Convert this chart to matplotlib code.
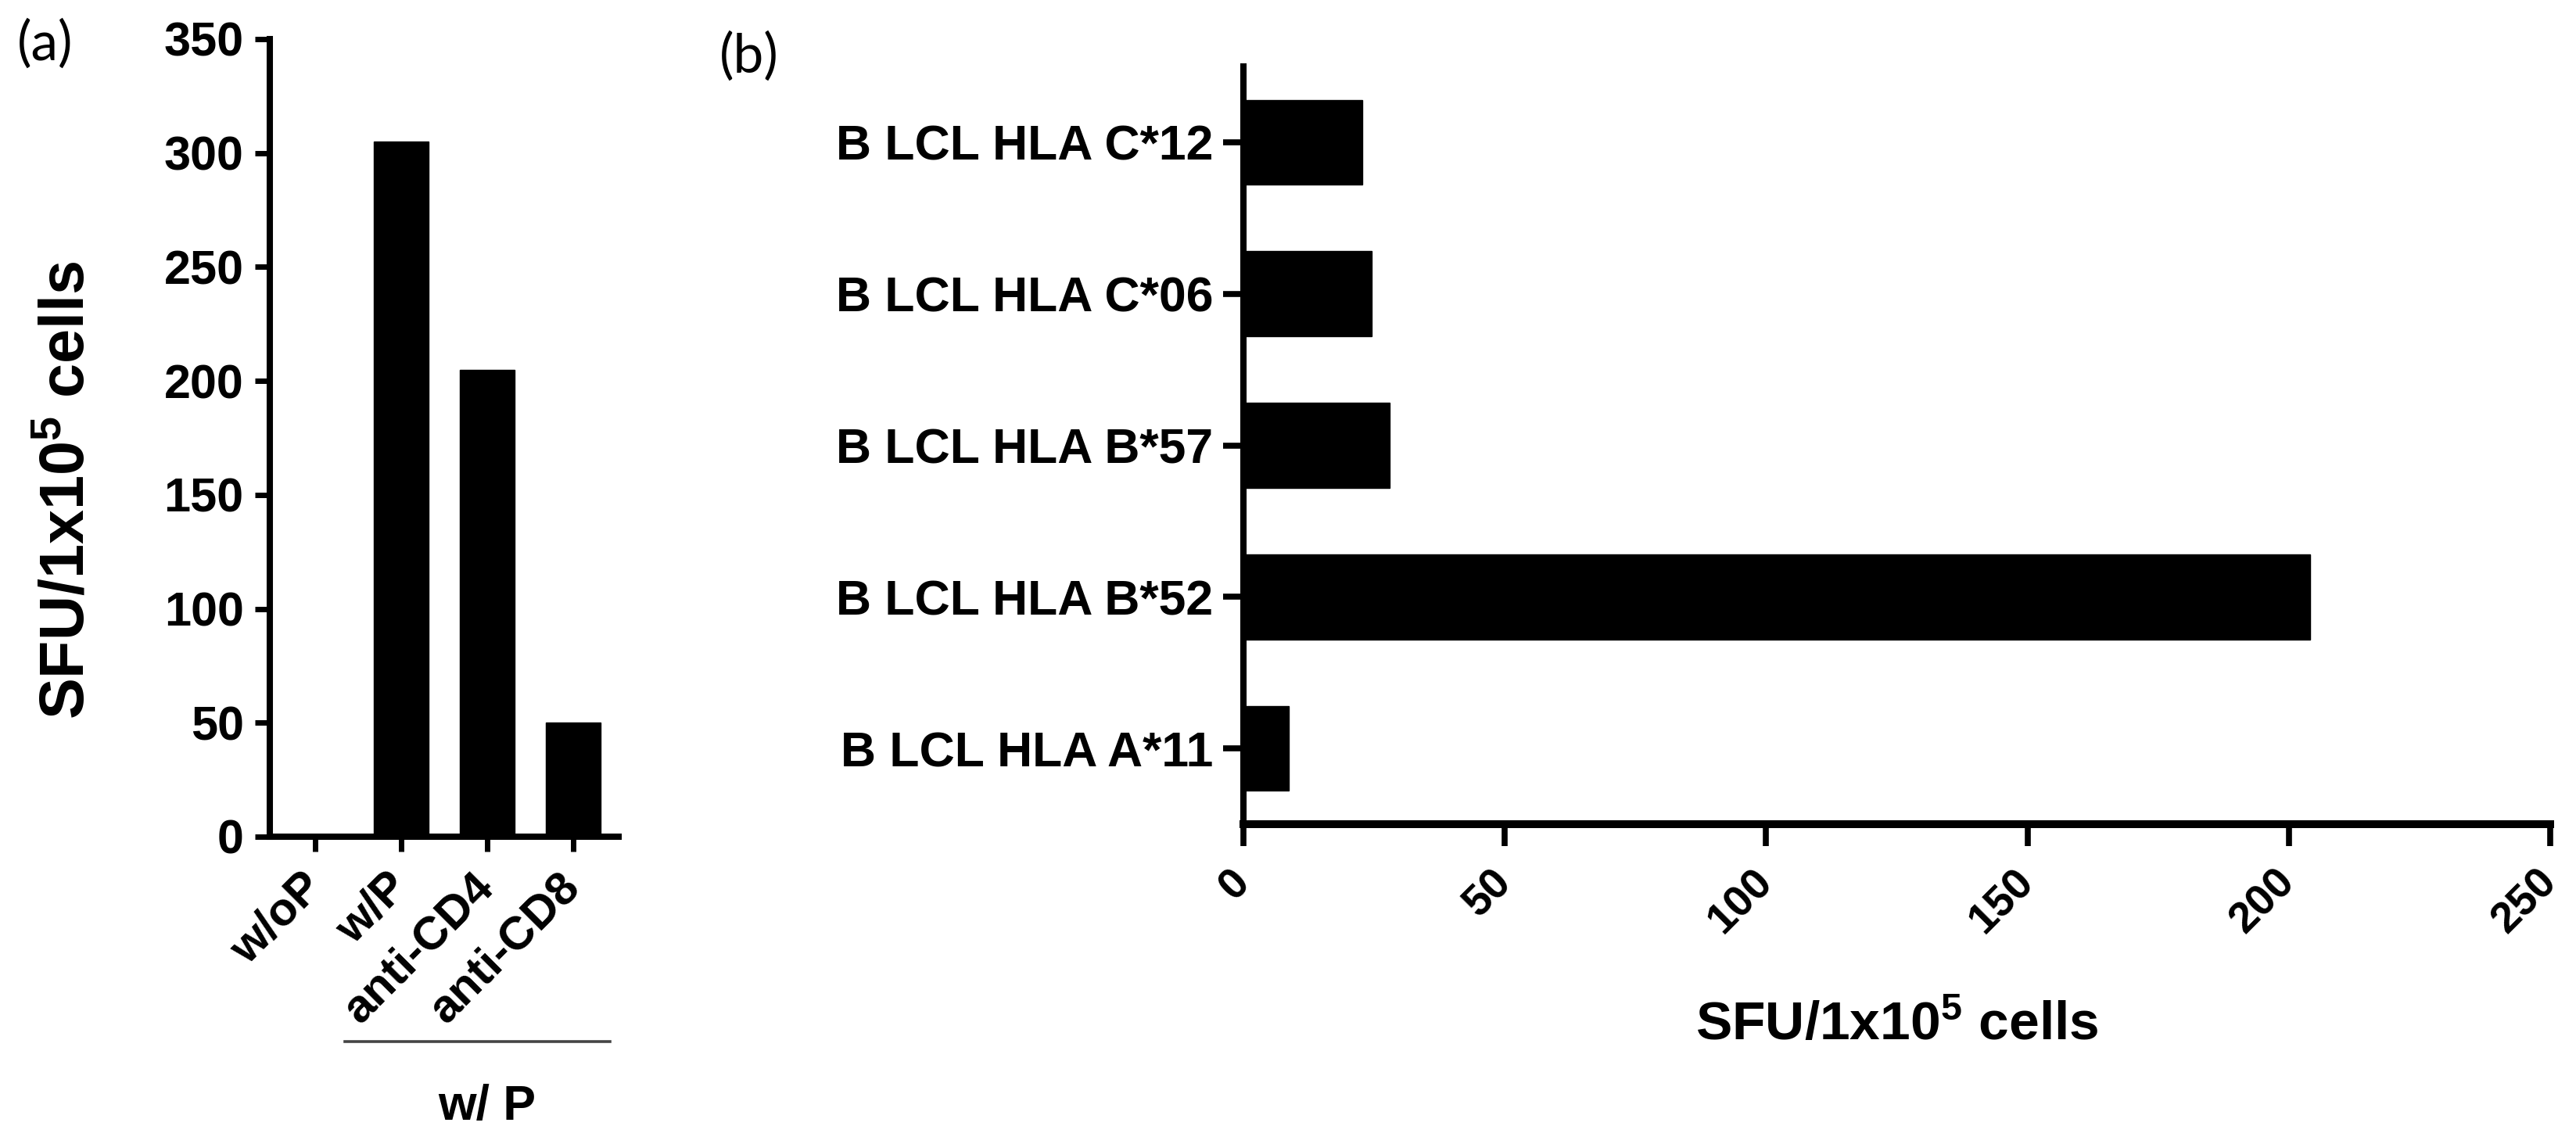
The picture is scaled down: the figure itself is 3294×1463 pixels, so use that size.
#!/usr/bin/env python3
"""Two-panel SFU bar figure: (a) peptide / blocking conditions, (b) B LCL HLA lines."""

import matplotlib
matplotlib.use("Agg")
import matplotlib.pyplot as plt
from matplotlib import transforms

# panel (a)
conditions = ["w/oP", "w/P", "anti-CD4", "anti-CD8"]
sfu_conditions = [0, 305, 205, 50]
group_members = [1, 2, 3]          # indices under the "w/ P" bracket
group_label = "w/ P"

# panel (b)
hla_lines = ["B LCL HLA A*11", "B LCL HLA B*52", "B LCL HLA B*57",
             "B LCL HLA C*06", "B LCL HLA C*12"]
sfu_hla = [8.7, 204, 28, 24.6, 22.8]

ylabel_text = r"SFU/1x10$^{5}$ cells"

plt.rcParams.update({
    "font.family": ["Liberation Sans", "DejaVu Sans"],
    "font.weight": "bold",
    "mathtext.fontset": "custom",
    "mathtext.rm": "Liberation Sans:bold",
    "mathtext.it": "Liberation Sans:bold",
    "mathtext.bf": "Liberation Sans:bold",
    "mathtext.default": "regular",
})

W, H = 3294, 1463
fig = plt.figure(figsize=(W / 100, H / 100), dpi=100)


def _box(left, top, right, bottom):
    return [left / W, 1 - bottom / H, (right - left) / W, (bottom - top) / H]


def _style(ax, lw_x, lw_y):
    for side in ("top", "right"):
        ax.spines[side].set_visible(False)
    ax.spines["bottom"].set_linewidth(lw_x)
    ax.spines["left"].set_linewidth(lw_y)
    ax.spines["bottom"].set_capstyle("projecting")
    ax.spines["left"].set_capstyle("projecting")


def _rotate(labels):
    for lab in labels:
        lab.set_rotation(45)
        lab.set_ha("right")
        lab.set_va("center")
        lab.set_rotation_mode("anchor")


# ---- (a) ----
ax_a = fig.add_axes(_box(345, 50, 791, 1070))
xa = range(len(conditions))
ax_a.bar(xa, sfu_conditions, width=0.64, color="black", edgecolor="black")
ax_a.set_xlim(-0.53, 3.53)
ax_a.set_ylim(0, 350)
ax_a.set_yticks(range(0, 351, 50))
ax_a.set_xticks(list(xa))
ax_a.set_xticklabels(conditions)
_style(ax_a, 5.8, 5.8)
ax_a.tick_params(axis="y", direction="out", length=14, width=5, labelsize=44, pad=10)
ax_a.tick_params(axis="x", direction="out", length=14, width=5, labelsize=43, pad=26)
_rotate(ax_a.get_xticklabels())

blend = transforms.blended_transform_factory(ax_a.transData, ax_a.transAxes)
ax_a.plot([min(group_members) - 0.66, max(group_members) + 0.43], [-0.257, -0.257],
          transform=blend, clip_on=False, color="#444444", lw=2.6)
ax_a.text(sum(group_members) / len(group_members), -0.355, group_label, transform=blend,
          ha="center", va="baseline", fontsize=45, fontweight="bold")

fig.text(87 / W, 1 - 627 / H, ylabel_text, rotation=90, ha="center", va="center",
         fontsize=57, fontweight="bold")
fig.text(22 / W, 1 - 24 / H, "(a)", ha="left", va="top", fontsize=50,
         fontweight="normal", family=["Lato", "DejaVu Sans"])

# ---- (b) ----
ax_b = fig.add_axes(_box(1590, 85, 3261, 1054))
yb = range(len(hla_lines))
ax_b.barh(yb, sfu_hla, height=0.56, color="black", edgecolor="black")
ax_b.set_xlim(0, 250)
ax_b.set_ylim(-0.5, 4.5)
ax_b.set_xticks(range(0, 251, 50))
ax_b.set_yticks(list(yb))
ax_b.set_yticklabels(hla_lines)
_style(ax_b, 7.2, 5.8)
ax_b.tick_params(axis="y", direction="out", length=19, width=5.5, labelsize=45, pad=9)
ax_b.tick_params(axis="x", direction="out", length=20, width=5.5, labelsize=40, pad=28)
_rotate(ax_b.get_xticklabels())

ax_b.text(0.5, -0.2848, ylabel_text, transform=ax_b.transAxes, ha="center",
          va="baseline", fontsize=50, fontweight="bold")
fig.text(920 / W, 1 - 40 / H, "(b)", ha="left", va="top", fontsize=50,
         fontweight="normal", family=["Lato", "DejaVu Sans"])

fig.savefig("out.png", dpi=100, facecolor="white")
